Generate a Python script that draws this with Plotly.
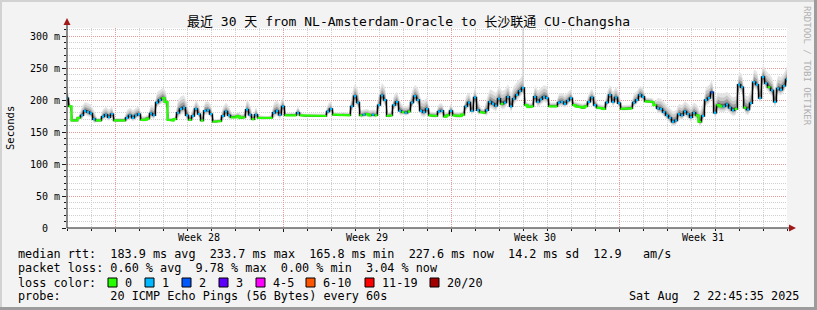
import plotly.graph_objects as go

# ---------------- data ----------------
title_text = "最近 30 天 from NL-Amsterdam-Oracle to 长沙联通 CU-Changsha"
step_hours = 3
median_ms = [
    203,190,168,168,172,176,183,181,179,170,
    168,168,174,177,173,178,168,168,168,168,
    172,176,172,176,178,169,169,171,179,176,
    196,200,203,197,169,168,170,180,186,188,
    176,169,175,186,178,168,183,184,178,166,
    166,167,175,182,176,173,173,175,172,173,
    185,177,170,177,172,171,171,171,172,180,
    183,177,190,176,176,176,176,180,176,175,
    175,176,175,176,175,176,175,182,186,177,
    176,176,177,176,176,190,206,196,176,177,
    178,176,177,176,192,207,200,175,176,192,
    197,183,181,180,182,196,206,200,183,181,
    186,176,175,175,182,183,174,176,183,176,
    175,175,177,190,196,183,204,184,181,180,
    184,197,194,191,202,194,196,205,190,202,
    208,214,219,192,189,190,205,197,201,205,
    203,190,190,190,196,197,194,199,203,192,
    190,189,188,190,197,204,192,188,187,186,
    196,208,197,204,195,186,186,186,187,196,
    200,208,205,198,198,197,192,187,186,181,
    176,172,166,168,178,176,182,178,173,180,
    176,166,175,200,203,212,180,192,190,190,
    193,188,184,186,224,220,188,185,195,228,
    224,203,236,226,220,215,197,218,216,222,
    232]
loss_pings = [int(c) for c in (
    "1000011111" "0011110000" "1111100011" "1100000111" "1011101110"
    "0011100000" "1101000001" "1110000100" "0000000110" "0000011101"
    "0010111001" "1101011111" "1000110010" "0001111100" "1111101111"
    "1110001111" "1000111110" "0000111000" "1111100001" "1110000111"
    "1111111111" "0011121001" "1110110111" "1111011111" "1")]
smoke_ms = [
    10,4,2,2,2,7,7,7,7,7,
    2,2,6,6,6,6,2,2,2,2,
    6,6,6,6,6,3,3,3,7,7,
    8,8,8,8,2,2,2,10,10,10,
    10,3,7,7,7,3,7,7,7,2,
    2,2,7,7,7,3,3,3,3,3,
    8,8,3,6,2,2,2,2,2,8,
    8,8,8,2,2,2,2,5,2,2,
    2,2,2,2,2,2,2,6,6,2,
    2,2,2,2,2,10,10,10,4,4,
    4,4,4,4,10,10,10,3,3,8,
    8,8,5,5,5,9,9,9,9,9,
    9,3,3,3,6,6,3,3,6,3,
    3,3,3,8,8,8,8,8,3,3,
    10,10,10,10,10,10,10,10,10,10,
    10,10,10,3,3,3,9,9,9,9,
    9,3,3,3,7,7,7,7,7,3,
    3,3,3,3,7,7,7,3,3,3,
    8,8,8,8,8,3,3,3,3,7,
    7,7,7,3,3,3,3,8,8,8,
    8,8,8,8,8,8,8,8,8,8,
    8,8,10,10,10,10,10,10,10,10,
    10,10,10,10,10,10,10,10,10,10,
    10,10,10,10,10,10,10,10,10,10,
    10]
spike_hours = [456]
spike_max_ms = [312]

week_lines_h = [48, 216, 384, 552]
week_labels = ["Week 28", "Week 29", "Week 30", "Week 31"]
week_label_h = [132, 300, 468, 636]
y_ticks = [0, 50, 100, 150, 200, 250, 300]
y_ticktext = ["0\u00a0\u00a0", "50 m", "100 m", "150 m", "200 m", "250 m", "300 m"]

loss_colors = ["#26ff00", "#00b8ff", "#0059ff", "#5e00ff", "#ff00ff", "#ff5500", "#ff0000", "#a00000"]
loss_names = ["0", "1", "2", "3", "4-5", "6-10", "11-19", "20/20"]

legend_lines = [
    "median rtt:  183.9 ms avg  233.7 ms max  165.8 ms min  227.6 ms now  14.2 ms sd  12.9   am/s",
    "packet loss: 0.60 % avg  9.78 % max  0.00 % min  3.04 % now",
    "loss color:",
    "probe:       20 ICMP Echo Pings (56 Bytes) every 60s",
]
date_text = "Sat Aug  2 22:45:35 2025"

# ---------------- layout constants (pixels) ----------------
W, H = 817, 310
PL, PR, PT, PB = 67, 787, 28, 228
YMAX = 312.5
MONO = "DejaVu Sans Mono, Noto Sans CJK SC, monospace"

def px(x):
    return (x - PL) / (PR - PL)

def py(y):
    return (PB - y) / (PB - PT)

def nb(s):
    return s.replace(" ", "\u00a0")

hours = [i * step_hours for i in range(len(median_ms))]
HMAX = 720

fig = go.Figure()

# smoke bands (lighter outside, darker near the median)
bands = [(-0.9, 2.0, "#e4e4e4"), (-0.6, 1.4, "#c9c9c9"), (-0.35, 0.85, "#a0a0a0"), (-0.15, 0.4, "#666666")]
for lo, hi, col in bands:
    fig.add_trace(go.Scatter(x=hours, y=[m + lo * s for m, s in zip(median_ms, smoke_ms)],
                             mode="lines", line=dict(width=0, color=col), hoverinfo="skip",
                             showlegend=False))
    fig.add_trace(go.Scatter(x=hours, y=[m + hi * s for m, s in zip(median_ms, smoke_ms)],
                             mode="lines", line=dict(width=0, color=col), fill="tonexty",
                             fillcolor=col, hoverinfo="skip", showlegend=False))

# outlier smoke spike
for h, mx in zip(spike_hours, spike_max_ms):
    idx = hours.index(h)
    fig.add_trace(go.Scatter(x=[h, h], y=[median_ms[idx], mx], mode="lines",
                             line=dict(width=1, color="#c4c4c4"), hoverinfo="skip", showlegend=False))

# median line (black step)
half = step_hours / 2
bx, by = [], []
for h, v in zip(hours, median_ms):
    bx += [max(0, h - half), min(HMAX, h + half)]
    by += [v, v]
fig.add_trace(go.Scatter(x=bx, y=by, mode="lines", line=dict(width=1.4, color="#000000"),
                         hoverinfo="skip", showlegend=False))

# loss-coloured median segments
for cat in sorted(set(loss_pings)):
    cx, cy = [], []
    prev = None
    seg = half if cat == 0 else 1.15
    for i, (h, v, l) in enumerate(zip(hours, median_ms, loss_pings)):
        if l != cat:
            continue
        if cat != 0 or (prev is not None and i != prev + 1):
            if cx:
                cx.append(None); cy.append(None)
        cx += [max(0, h - seg), min(HMAX, h + seg)]
        cy += [v, v]
        prev = i
    fig.add_trace(go.Scatter(x=cx, y=cy, mode="lines", line=dict(width=2.2, color=loss_colors[cat]),
                             hoverinfo="skip", showlegend=False, connectgaps=False))

shapes = []
# frame
shapes.append(dict(type="rect", xref="paper", yref="paper", x0=px(0), x1=px(W), y0=py(0), y1=py(2),
                   fillcolor="#d2d2d2", line=dict(width=0), layer="above"))
shapes.append(dict(type="rect", xref="paper", yref="paper", x0=px(0), x1=px(2), y0=py(0), y1=py(H),
                   fillcolor="#d2d2d2", line=dict(width=0), layer="above"))
shapes.append(dict(type="rect", xref="paper", yref="paper", x0=px(0), x1=px(W), y0=py(H - 3), y1=py(H),
                   fillcolor="#9c9c9c", line=dict(width=0), layer="above"))
shapes.append(dict(type="rect", xref="paper", yref="paper", x0=px(W - 3), x1=px(W), y0=py(0), y1=py(H),
                   fillcolor="#9c9c9c", line=dict(width=0), layer="above"))
# axes
shapes.append(dict(type="line", xref="paper", yref="paper", x0=px(PL), x1=px(PL), y0=py(PB), y1=py(24),
                   line=dict(color="#1a1a1a", width=1)))
shapes.append(dict(type="line", xref="paper", yref="paper", x0=px(PL), x1=px(791), y0=py(PB), y1=py(PB),
                   line=dict(color="#1a1a1a", width=1)))
shapes.append(dict(type="path", xref="paper", yref="paper",
                   path=f"M {px(PL-3.5)} {py(25)} L {px(PL+3.5)} {py(25)} L {px(PL)} {py(18)} Z",
                   fillcolor="#a01818", line=dict(width=0)))
shapes.append(dict(type="path", xref="paper", yref="paper",
                   path=f"M {px(789)} {py(PB-3.5)} L {px(789)} {py(PB+3.5)} L {px(796)} {py(PB)} Z",
                   fillcolor="#a01818", line=dict(width=0)))

annotations = []
annotations.append(dict(text=title_text, xref="paper", yref="paper", x=px(408), y=py(21),
                        xanchor="center", yanchor="middle", showarrow=False,
                        font=dict(family=MONO, size=13, color="#000000")))
annotations.append(dict(text="Seconds", xref="paper", yref="paper", x=px(10), y=py(128),
                        xanchor="center", yanchor="middle", showarrow=False, textangle=-90,
                        font=dict(family=MONO, size=10.5, color="#000000")))
annotations.append(dict(text=nb("RRDTOOL / TOBI OETIKER"), xref="paper", yref="paper", x=px(807), y=py(4),
                        xanchor="center", yanchor="top", showarrow=False, textangle=90,
                        font=dict(family=MONO, size=9, color="#b0b0b0")))
for h, lab in zip(week_label_h, week_labels):
    annotations.append(dict(text=nb(lab), xref="x", yref="paper", x=h, y=py(237),
                            xanchor="center", yanchor="middle", showarrow=False,
                            font=dict(family=MONO, size=10, color="#000000")))
legend_y = [254, 268, 283, 296]
for txt, yy in zip(legend_lines, legend_y):
    annotations.append(dict(text=nb(txt), xref="paper", yref="paper", x=px(16), y=py(yy),
                            xanchor="left", yanchor="middle", showarrow=False,
                            font=dict(family=MONO, size=11.8, color="#000000")))
annotations.append(dict(text=nb(date_text), xref="paper", yref="paper", x=px(801), y=py(296),
                        xanchor="right", yanchor="middle", showarrow=False,
                        font=dict(family=MONO, size=11.8, color="#000000")))
sq_x = [108, 145, 182, 219, 256, 306, 365, 430]
for sx, col, name in zip(sq_x, loss_colors, loss_names):
    shapes.append(dict(type="rect", xref="paper", yref="paper", x0=px(sx), x1=px(sx + 9),
                       y0=py(287), y1=py(278), fillcolor=col, line=dict(color="#000000", width=1)))
    annotations.append(dict(text=nb(name), xref="paper", yref="paper", x=px(sx + 14.5), y=py(283),
                            xanchor="left", yanchor="middle", showarrow=False,
                            font=dict(family=MONO, size=11.8, color="#000000")))

fig.update_layout(
    width=W, height=H,
    margin=dict(l=PL, r=W - PR, t=PT, b=H - PB, pad=0),
    paper_bgcolor="#f3f3f3", plot_bgcolor="#ffffff",
    showlegend=False,
    shapes=shapes, annotations=annotations,
    xaxis=dict(range=[0, HMAX], tickvals=week_lines_h, showticklabels=False,
               ticks="outside", ticklen=3, tickcolor="#1a1a1a",
               showgrid=True, gridcolor="#e89a9a", griddash="1px,1px", gridwidth=1,
               zeroline=False, showline=False, fixedrange=True,
               minor=dict(dtick=24, tick0=0, ticks="outside", ticklen=2, tickcolor="#1a1a1a",
                          showgrid=True, gridcolor="#cfcfcf", griddash="1px,1px", gridwidth=1)),
    yaxis=dict(range=[0, YMAX], tickvals=y_ticks, ticktext=y_ticktext,
               ticks="outside", ticklen=4, tickcolor="#1a1a1a",
               tickfont=dict(family=MONO, size=10, color="#000000"),
               showgrid=True, gridcolor="#e89a9a", griddash="1px,1px", gridwidth=1,
               zeroline=False, showline=False, fixedrange=True,
               minor=dict(dtick=10, tick0=0, ticks="outside", ticklen=2, tickcolor="#1a1a1a",
                          showgrid=True, gridcolor="#cfcfcf", griddash="1px,1px", gridwidth=1)),
)

fig.write_html("out.html")
